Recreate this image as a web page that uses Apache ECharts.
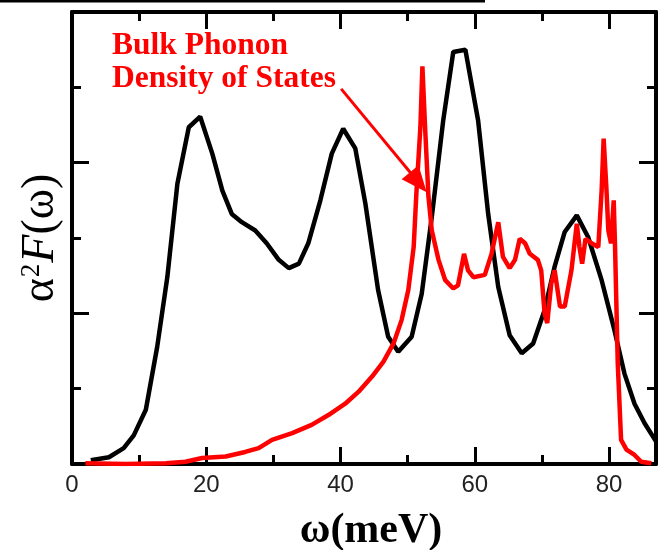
<!DOCTYPE html>
<html>
<head>
<meta charset="utf-8">
<script src="https://cdn.jsdelivr.net/npm/echarts@6/dist/echarts.min.js"></script>
<style>
  html, body { margin: 0; padding: 0; background: #fff; }
  #chart { width: 662px; height: 550px; }
</style>
</head>
<body>
<div id="chart"></div>
<script>
// a2F(w) curve (black)
var eliashbergX = [2.8, 5.5, 7.7, 9.2, 11.0, 12.7, 14.2, 15.7, 17.4, 19.1, 20.9, 22.4, 23.8, 25.3, 27.3, 29.0, 30.8, 32.3, 33.8, 35.2, 37.0, 38.7, 40.4, 42.2, 43.7, 45.6, 47.1, 48.6, 50.6, 52.1, 53.6, 55.3, 56.8, 58.6, 60.5, 62.0, 63.5, 65.2, 67.0, 68.7, 70.4, 71.9, 73.4, 75.2, 76.9, 78.9, 80.8, 82.3, 83.8, 85.3, 87.0];
var eliashbergY = [0.05, 0.09, 0.21, 0.38, 0.72, 1.56, 2.48, 3.72, 4.47, 4.61, 4.12, 3.63, 3.32, 3.21, 3.10, 2.93, 2.71, 2.60, 2.66, 2.93, 3.50, 4.12, 4.45, 4.19, 3.46, 2.31, 1.69, 1.49, 1.69, 2.26, 3.28, 4.56, 5.47, 5.50, 4.56, 3.32, 2.35, 1.71, 1.47, 1.60, 2.04, 2.62, 3.08, 3.30, 3.01, 2.44, 1.78, 1.20, 0.80, 0.54, 0.30];

// bulk phonon density of states (red)
var dosX = [2.0, 8.0, 14.0, 16.9, 19.4, 22.9, 25.8, 27.8, 29.8, 32.8, 35.7, 38.2, 40.7, 42.7, 44.7, 46.4, 47.9, 49.1, 50.1, 50.9, 51.3, 51.9, 52.2, 52.6, 53.1, 53.6, 54.6, 55.6, 56.8, 57.5, 58.4, 59.0, 59.8, 61.5, 62.5, 63.5, 64.2, 65.2, 66.0, 66.7, 67.5, 68.2, 69.4, 69.9, 70.4, 70.8, 71.4, 71.9, 72.7, 73.4, 74.4, 75.2, 75.6, 76.0, 76.5, 77.4, 78.4, 78.9, 79.2, 79.6, 79.9, 80.3, 80.7, 80.9, 81.3, 81.8, 82.6, 83.8, 84.8, 86.3];
var dosY = [0.01, 0.0, 0.01, 0.03, 0.08, 0.10, 0.16, 0.21, 0.32, 0.41, 0.52, 0.65, 0.80, 0.96, 1.16, 1.36, 1.60, 1.91, 2.31, 2.88, 3.59, 4.47, 5.28, 4.47, 3.55, 3.10, 2.71, 2.44, 2.33, 2.37, 2.79, 2.57, 2.48, 2.51, 2.79, 3.21, 2.75, 2.60, 2.71, 2.99, 2.93, 2.79, 2.71, 2.57, 2.00, 1.87, 2.40, 2.57, 2.09, 2.09, 2.57, 3.19, 2.88, 2.66, 2.99, 2.93, 2.88, 3.63, 4.32, 3.68, 3.10, 2.93, 3.50, 2.88, 1.34, 0.32, 0.19, 0.12, 0.03, 0.01];

var arrowFrom = [40.1, 4.98];
var arrowTo = [51.6, 3.74];

function pairs(xs, ys) {
  return xs.map(function (x, i) { return [x, ys[i]]; });
}

// every axis gets its own fresh style objects; top/right ones must not jump to zero
function frameAxis(extra, onZero) {
  var a = {
    type: "value",
    axisLine: { show: true, lineStyle: { color: "#000", width: 4 } },
    axisTick: { show: true, inside: true, length: 17, lineStyle: { color: "#000", width: 3 } },
    minorTick: { show: true, splitNumber: 2, length: 9, lineStyle: { color: "#000", width: 3 } },
    splitLine: { show: false },
    axisLabel: { show: false }
  };
  if (onZero === false) a.axisLine.onZero = false;
  for (var k in extra) a[k] = extra[k];
  return a;
}

var chart = echarts.init(document.getElementById("chart"));
chart.setOption({
  animation: false,
  grid: { left: 72, right: 6, top: 12, bottom: 86, outerBoundsMode: "none" },
  xAxis: [
    frameAxis({
      position: "bottom",
      min: 0,
      max: 87,
      interval: 20,
      name: "ω(meV)",
      nameLocation: "middle",
      nameGap: 46,
      nameTextStyle: { fontFamily: "Liberation Serif", fontWeight: "bold", fontSize: 42, color: "#000", padding: [0, 0, 0, 14] },
      axisLabel: {
        show: true,
        showMaxLabel: false,
        margin: 9,
        fontFamily: "Liberation Sans",
        fontSize: 24,
        color: "#222"
      }
    }),
    frameAxis({ position: "top", min: 0, max: 87, interval: 20 }, false)
  ],
  yAxis: [
    frameAxis({
      position: "left",
      min: 0,
      max: 6,
      interval: 2,
      name: "{a|α}{s|2}{f|F}{a|(ω)}",
      nameLocation: "middle",
      nameRotate: 90,
      nameGap: 8,
      nameTextStyle: {
        rich: {
          a: { fontFamily: "Liberation Serif", fontSize: 46, color: "#000" },
          s: { fontFamily: "Liberation Serif", fontSize: 27, color: "#000", padding: [0, 1, 18, 1] },
          f: { fontFamily: "Liberation Serif", fontStyle: "italic", fontSize: 46, color: "#000" }
        }
      }
    }),
    frameAxis({ position: "right", min: 0, max: 6, interval: 2 }, false)
  ],
  series: [
    {
      name: "a2F",
      type: "line",
      data: pairs(eliashbergX, eliashbergY),
      showSymbol: false,
      lineStyle: { color: "#000", width: 4.5 },
      itemStyle: { color: "#000" }
    },
    {
      name: "Bulk Phonon DOS",
      type: "line",
      data: pairs(dosX, dosY),
      showSymbol: false,
      lineStyle: { color: "#ff0000", width: 4.5 },
      itemStyle: { color: "#ff0000" },
      markLine: {
        silent: true,
        symbol: ["none", "triangle"],
        symbolSize: [22, 26],
        label: { show: false },
        lineStyle: { color: "#ff0000", width: 3, type: "solid" },
        data: [[{ coord: arrowFrom }, { coord: arrowTo }]]
      }
    }
  ],
  graphic: [
    {
      type: "line",
      shape: { x1: 0, y1: 1, x2: 485, y2: 1 },
      style: { stroke: "#000", lineWidth: 3 }
    },
    {
      type: "text",
      left: 112,
      top: 29,
      style: {
        text: "Bulk Phonon\nDensity of States",
        fill: "#ff0000",
        font: 'bold 31.5px "Liberation Serif"',
        lineHeight: 33
      }
    }
  ]
});
</script>
</body>
</html>
